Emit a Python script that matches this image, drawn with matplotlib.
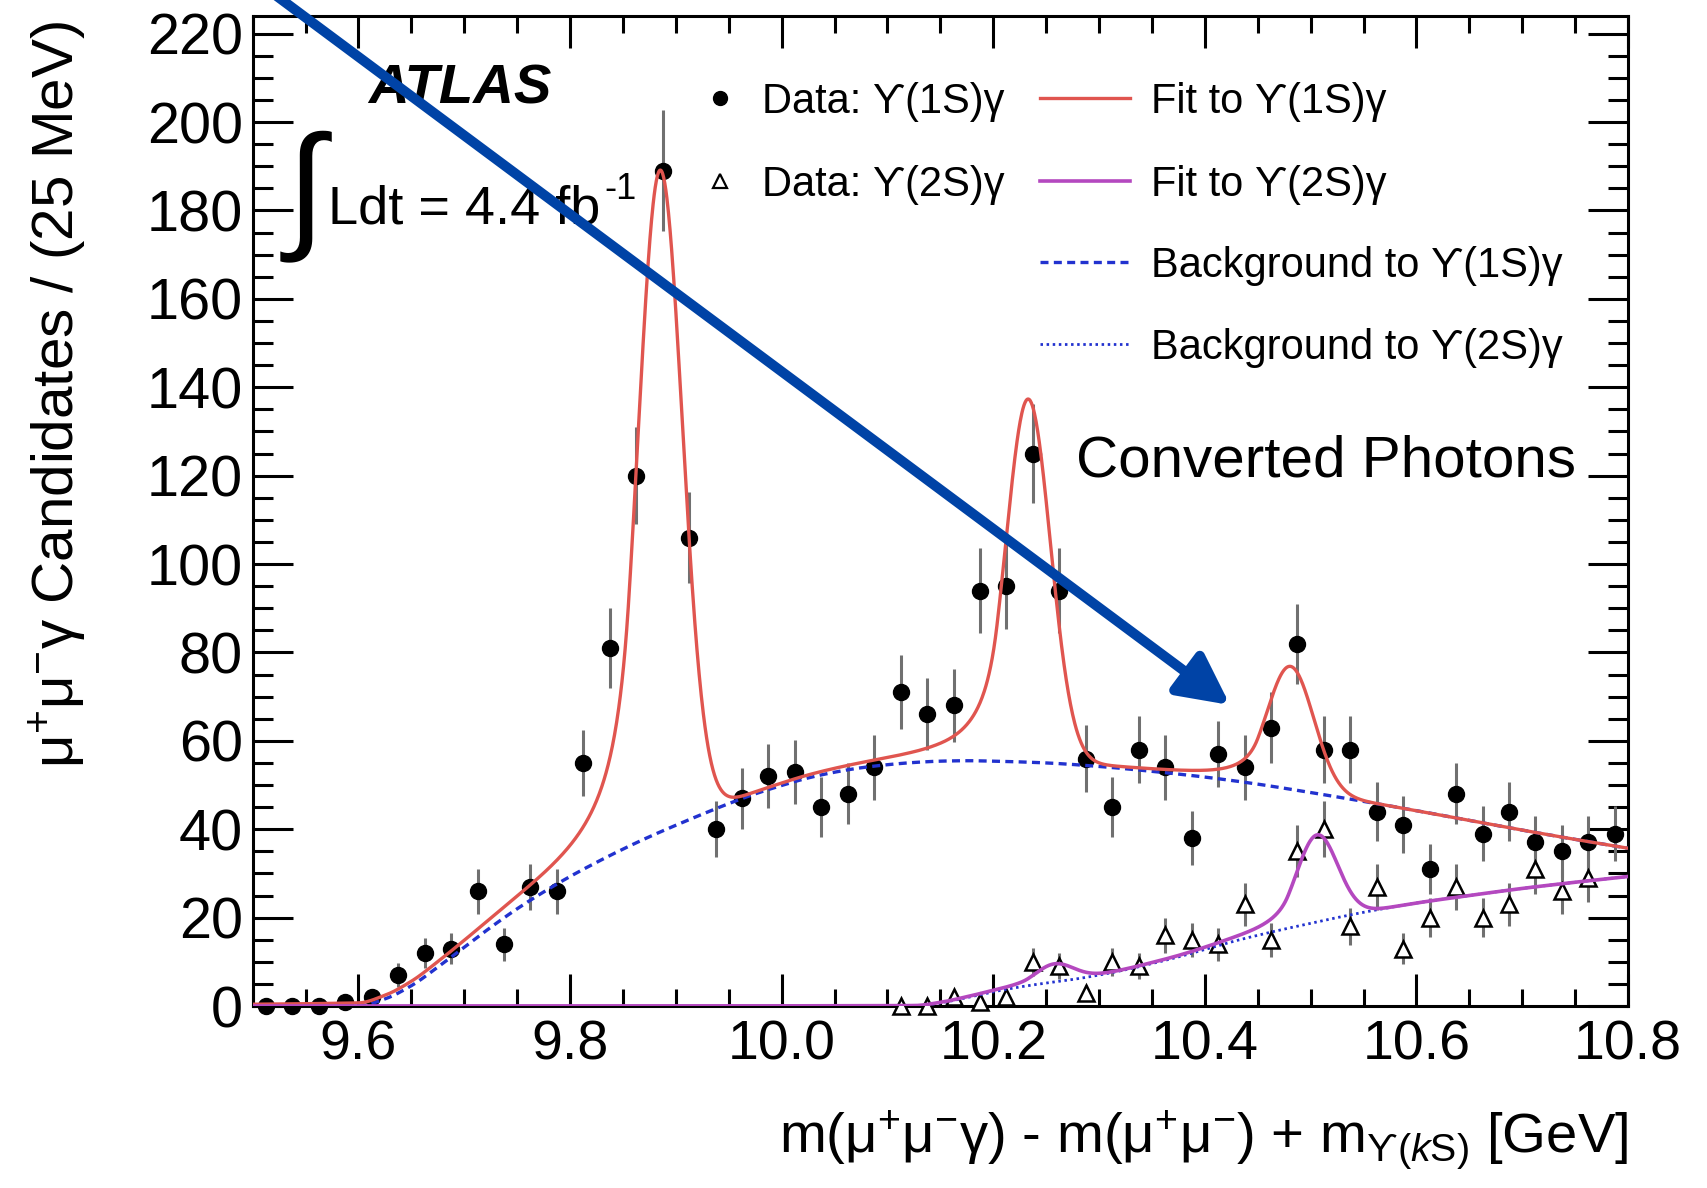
import numpy as np
import matplotlib
matplotlib.use("Agg")
import matplotlib.pyplot as plt
from matplotlib.ticker import MultipleLocator
from matplotlib.lines import Line2D
from matplotlib.patches import FancyArrowPatch

W, H = 1708, 1188

plt.rcParams["font.family"] = ["Liberation Sans", "DejaVu Sans"]
plt.rcParams["mathtext.fontset"] = "custom"
plt.rcParams["mathtext.rm"] = "Liberation Sans"
plt.rcParams["mathtext.it"] = "Liberation Sans:italic"
plt.rcParams["mathtext.bf"] = "Liberation Sans:bold"
plt.rcParams["mathtext.fallback"] = "stixsans"

# ---------------- data ----------------
# 25 MeV bins from 9.5 to 10.8 GeV
bin_width = 0.025
bin_centers = 9.5 + bin_width * (np.arange(52) + 0.5)

# Upsilon(1S) gamma candidates per bin
counts_1s = [0, 0, 0, 1, 2, 7, 12, 13, 26, 14, 27, 26, 55, 81, 120, 189, 106, 40,
             47, 52, 53, 45, 48, 54, 71, 66, 68, 94, 95, 125, 94, 56, 45, 58, 54,
             38, 57, 54, 63, 82, 58, 58, 44, 41, 31, 48, 39, 44, 37, 35, 37, 39]

# Upsilon(2S) gamma candidates, bins from 10.1125 GeV onward
first_bin_2s = 24
counts_2s = [0, 0, 2, 1, 2, 10, 9, 3, 10, 9, 16, 15, 14, 23, 15, 35, 40, 18,
             27, 13, 20, 27, 20, 23, 31, 26, 29]

# background shapes of the two fits (GeV, candidates / 25 MeV)
bg1_x = [9.600, 9.625, 9.650, 9.675, 9.700, 9.725, 9.750, 9.775, 9.800, 9.825,
         9.850, 9.875, 9.900, 9.925, 9.950, 9.975, 10.000, 10.025, 10.050,
         10.075, 10.100, 10.125, 10.150, 10.175, 10.200, 10.250, 10.300,
         10.350, 10.400, 10.450, 10.500, 10.550, 10.600, 10.650, 10.700,
         10.750, 10.800]
bg1_y = [0.0, 1.6, 4.6, 8.8, 13.3, 17.8, 22.0, 25.8, 29.3, 32.5, 35.5, 38.3,
         40.9, 43.4, 45.8, 48.0, 49.9, 51.6, 52.9, 53.9, 54.6, 55.1, 55.4, 55.5,
         55.4, 55.0, 54.2, 53.1, 51.8, 50.2, 48.3, 46.3, 44.2, 42.0, 39.8,
         37.7, 35.7]

bg2_x = [10.125, 10.150, 10.175, 10.200, 10.225, 10.250, 10.275, 10.300,
         10.325, 10.350, 10.375, 10.400, 10.425, 10.450, 10.475, 10.500,
         10.525, 10.550, 10.575, 10.600, 10.650, 10.700, 10.750, 10.800]
bg2_y = [0.0, 0.7, 1.9, 3.2, 4.3, 5.2, 6.0, 7.0, 8.2, 9.6, 11.1, 12.8, 14.5,
         16.0, 17.4, 18.7, 20.0, 21.2, 22.3, 23.3, 25.0, 26.6, 28.0, 29.3]

# signal peaks of each fit: position (GeV), height above background, width (GeV)
peaks1_mu = [9.885, 10.233, 10.481]
peaks1_h = [149.5, 82.0, 27.8]
peaks1_sigma = [0.021, 0.021, 0.022]

peaks2_mu = [10.258, 10.506]
peaks2_h = [4.0, 19.7]
peaks2_sigma = [0.018, 0.0195]

tail_alpha, tail_n = 1.4, 2.0

x_ticks = [9.6, 9.8, 10.0, 10.2, 10.4, 10.6, 10.8]
y_ticks = list(range(0, 221, 20))


# ---------------- helpers ----------------
def pchip(xk, yk, x):
    """Monotone cubic through the background knots, flat start at threshold."""
    xk = np.asarray(xk, float)
    yk = np.asarray(yk, float)
    h = np.diff(xk)
    d = np.diff(yk) / h
    m = np.zeros_like(yk)
    for k in range(1, len(xk) - 1):
        if d[k - 1] * d[k] > 0:
            w1 = 2 * h[k] + h[k - 1]
            w2 = h[k] + 2 * h[k - 1]
            m[k] = (w1 + w2) / (w1 / d[k - 1] + w2 / d[k])
    m[0] = 0.0
    m[-1] = d[-1]
    idx = np.clip(np.searchsorted(xk, x) - 1, 0, len(xk) - 2)
    t = (x - xk[idx]) / h[idx]
    h00 = 2 * t**3 - 3 * t**2 + 1
    h10 = t**3 - 2 * t**2 + t
    h01 = -2 * t**3 + 3 * t**2
    h11 = t**3 - t**2
    y = h00 * yk[idx] + h10 * h[idx] * m[idx] + h01 * yk[idx + 1] + h11 * h[idx] * m[idx + 1]
    return np.where(x < xk[0], 0.0, y)


def crystal_ball(x, mu, sigma, alpha, n):
    t = (x - mu) / sigma
    a = (n / alpha) ** n * np.exp(-0.5 * alpha**2)
    b = n / alpha - alpha
    tail = a * (b - np.minimum(t, -alpha)) ** (-n)
    return np.where(t > -alpha, np.exp(-0.5 * t**2), tail)


def fx(px):
    return px / W


def fy(py):
    return 1.0 - py / H


# ---------------- curves ----------------
xf = np.linspace(9.5, 10.8, 2601)
bg1 = pchip(bg1_x, bg1_y, xf)
bg2 = pchip(bg2_x, bg2_y, xf)
fit1 = bg1.copy()
for mu, hh, sg in zip(peaks1_mu, peaks1_h, peaks1_sigma):
    fit1 += hh * crystal_ball(xf, mu, sg, tail_alpha, tail_n)
fit2 = bg2.copy()
for mu, hh, sg in zip(peaks2_mu, peaks2_h, peaks2_sigma):
    fit2 += hh * crystal_ball(xf, mu, sg, tail_alpha, tail_n)

c_red = "#e0554f"
c_purple = "#b448bf"
c_blue = "#2232cf"
c_err = "#707070"

# ---------------- figure ----------------
fig = plt.figure(figsize=(W / 100, H / 100), dpi=100)
ax_l, ax_r, ax_t, ax_b = 252.7, 1628.0, 16.0, 1006.0
ax = fig.add_axes([fx(ax_l), fy(ax_b), (ax_r - ax_l) / W, (ax_b - ax_t) / H])

y1 = np.asarray(counts_1s, float)
x2 = bin_centers[first_bin_2s:first_bin_2s + len(counts_2s)]
y2 = np.asarray(counts_2s, float)[:len(x2)]

ax.errorbar(bin_centers, y1, yerr=np.sqrt(y1), fmt="none", ecolor=c_err,
            elinewidth=2.2, capsize=0, zorder=2)
ax.errorbar(x2, y2, yerr=np.sqrt(y2), fmt="none", ecolor=c_err,
            elinewidth=2.2, capsize=0, zorder=2)
ax.plot(bin_centers, y1, "o", color="black", ms=11.5, zorder=3, clip_on=False)
ax.plot(x2, y2, "^", mfc="white", mec="black", mew=1.8, ms=12, zorder=3,
        clip_on=False)

m1 = xf >= bg1_x[0]
m2 = xf >= bg2_x[0]
ax.plot(xf[m1], bg1[m1], color=c_blue, lw=2.4, ls=(0, (2.4, 1.6)), zorder=4)
ax.plot(xf[m2], bg2[m2], color=c_blue, lw=2.0, ls=(0, (0.9, 1.3)), zorder=4)
ax.plot(xf, fit1, color=c_red, lw=2.4, zorder=5)
ax.plot(xf, fit2, color=c_purple, lw=2.6, zorder=5)

ax.set_xlim(9.5, 10.8)
ax.set_ylim(0, 224)
ax.set_xticks(x_ticks)
ax.set_xticklabels([f"{v:.1f}" for v in x_ticks])
ax.set_yticks(y_ticks)
ax.xaxis.set_minor_locator(MultipleLocator(0.05))
ax.yaxis.set_minor_locator(MultipleLocator(5))
ax.tick_params(which="both", direction="in", top=True, right=True, width=2.2)
ax.tick_params(axis="x", which="major", length=23, pad=10, labelsize=40)
ax.tick_params(axis="x", which="minor", length=12)
ax.tick_params(axis="y", which="major", length=29, pad=7, labelsize=41.5)
ax.tick_params(axis="y", which="minor", length=14.5)
for s in ax.spines.values():
    s.set_linewidth(2.2)

# axis titles
fig.text(fx(57), fy(21),
         r"$\mathrm{\mu^{+}\mu^{-}\gamma}$ Candidates / (25 MeV)",
         rotation=90, ha="center", va="top", fontsize=42)
fig.text(fx(1628), fy(1152),
         r"m($\mathrm{\mu^{+}\mu^{-}\gamma}$) - m($\mathrm{\mu^{+}\mu^{-}}$) + m$_{\mathrm{ϒ(}k\mathrm{S)}}$ [GeV]",
         ha="right", va="baseline", fontsize=40.5)

# labels inside the frame
fig.text(fx(368), fy(103), "ATLAS", fontsize=40.5, fontweight="bold",
         fontstyle="italic", ha="left", va="baseline")
fig.text(fx(306), fy(262), "\u222b", fontsize=100, family="Liberation Sans",
         ha="center", va="bottom")
fig.text(fx(328), fy(223), "Ldt = 4.4 fb", fontsize=39, ha="left",
         va="baseline")
fig.text(fx(604), fy(199), "-1", fontsize=26, ha="left", va="baseline")
fig.text(fx(1076), fy(476), "Converted Photons", fontsize=42, ha="left",
         va="baseline")

# legend
rows = [98, 181, 262, 344]
leg_fs = 30
fig.add_artist(Line2D([fx(720)], [fy(rows[0])], marker="o", color="black",
                      ms=10, ls="none"))
fig.add_artist(Line2D([fx(720)], [fy(rows[1])], marker="^", mfc="white",
                      mec="black", mew=1.6, ms=10, ls="none"))
fig.text(fx(762), fy(rows[0] + 15), "Data: ϒ(1S)γ", fontsize=leg_fs,
         va="baseline")
fig.text(fx(762), fy(rows[1] + 15), "Data: ϒ(2S)γ", fontsize=leg_fs,
         va="baseline")
samples = [
    (c_red, 2.4, "-", "Fit to ϒ(1S)γ"),
    (c_purple, 2.6, "-", "Fit to ϒ(2S)γ"),
    (c_blue, 2.4, (0, (2.4, 1.6)), "Background to ϒ(1S)γ"),
    (c_blue, 2.0, (0, (0.9, 1.3)), "Background to ϒ(2S)γ"),
]
for ry, (col, lw, ls, lab) in zip(rows, samples):
    fig.add_artist(Line2D([fx(1040), fx(1130)], [fy(ry), fy(ry)], color=col,
                          lw=lw, ls=ls))
    fig.text(fx(1151), fy(ry + 15), lab, fontsize=leg_fs, va="baseline")

# annotation arrow
arrow = FancyArrowPatch((fx(268.6), fy(-10)), (fx(1230), fy(705)),
                        transform=fig.transFigure,
                        arrowstyle="-|>,head_length=30.6,head_width=15.5",
                        mutation_scale=1, lw=7.2, color="#0043a6",
                        shrinkA=0, shrinkB=0, zorder=10)
fig.add_artist(arrow)

fig.savefig("out.png", dpi=100)
